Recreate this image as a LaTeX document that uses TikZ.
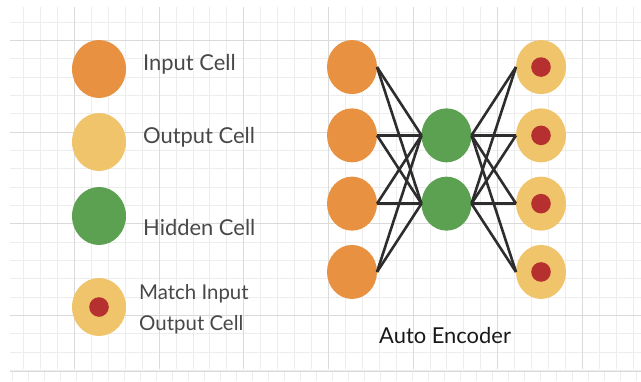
\documentclass[tikz,border=0pt]{standalone}
\usepackage{fontspec}
\setmainfont{Lato}
\usepackage{tikz}
\usetikzlibrary{shapes.geometric}
\usetikzlibrary{positioning}

\definecolor{inorange}{RGB}{232,145,64}
\definecolor{outyellow}{RGB}{240,196,106}
\definecolor{hidgreen}{RGB}{92,160,82}
\definecolor{dotred}{RGB}{183,48,48}
\definecolor{gridminor}{RGB}{237,237,237}
\definecolor{gridmajor}{RGB}{218,218,218}
\definecolor{wirecol}{RGB}{45,45,45}
\definecolor{legtext}{RGB}{72,72,72}
\definecolor{titletext}{RGB}{25,25,25}

\begin{document}
\begin{tikzpicture}[x=1bp,y=1bp,
	cell/.style={ellipse,minimum width=50bp,minimum height=54bp,inner sep=0pt,outer sep=0pt},
	bigcell/.style={cell,minimum width=54bp,minimum height=58bp},
	incell/.style={fill=inorange},
	outcell/.style={fill=outyellow},
	hidcell/.style={fill=hidgreen},
	matchcell/.style={fill=outyellow,path picture={\fill[dotred] (path picture bounding box.center) circle (9.8bp);}},
	legend/.style={anchor=base west,inner sep=0pt,text=legtext,font=\fontsize{22}{26}\selectfont},
	smalllegend/.style={legend,font=\fontsize{20.5}{24}\selectfont},
	wire/.style={draw=wirecol,line width=2.6bp},
	minorline/.style={draw=gridminor,line width=1bp},
	majorline/.style={draw=gridmajor,line width=1.5bp}]
	\useasboundingbox (0,0) rectangle (641,381);
	\fill[white] (0,0) rectangle (641,381);
	% background grid
	\foreach \gx in {1,...,37} \draw[minorline] ({round(6.3+16.93*\gx)+0.5},12) -- ++(0,362);
	\foreach \gy in {0,...,19} \draw[minorline] (10,{round(10+18.33*\gy)+0.5}) -- (641,{round(10+18.33*\gy)+0.5});
	\foreach \gx in {0,...,6} \draw[majorline] ({round(74+84.67*\gx)+0.5},12) -- ++(0,362);
	\foreach \gy in {0,...,3} \draw[majorline] (10,{round(65+91.67*\gy)+0.5}) -- (641,{round(65+91.67*\gy)+0.5});
	% bottom strip
	\foreach \gx in {0,...,39} \draw[minorline] ({12+16*\gx+0.5},0) -- ++(0,9);
	\draw[majorline,line width=1.2bp] (10,9.5) -- (641,9.5);

	% legend
	\node[bigcell,incell] (kin) at (99,312) {};
	\node[bigcell,outcell] (kout) at (99,239) {};
	\node[bigcell,hidcell] (khid) at (99,165) {};
	\node[bigcell,matchcell] (kmatch) at (99,74) {};
	\node[legend] (lin) at (143,311) {Input Cell};
	\node[legend] (lout) at (143,238) {Output Cell};
	\node[legend] (lhid) at (143,146) {Hidden Cell};
	\node[smalllegend] (lmatch) at (139,82) {Match Input};
	\node[smalllegend] (lmatchout) at (139,51) {Output Cell};

	% network
	\matrix (ae) [row sep=14.3bp,column sep=44.5bp] at (446.5,211.5) {
		\node[cell,incell] (i1) {}; & & \node[cell,matchcell] (o1) {}; \\
		\node[cell,incell] (i2) {}; & \node[cell,hidcell] (h1) {}; & \node[cell,matchcell] (o2) {}; \\
		\node[cell,incell] (i3) {}; & \node[cell,hidcell] (h2) {}; & \node[cell,matchcell] (o3) {}; \\
		\node[cell,incell] (i4) {}; & & \node[cell,matchcell] (o4) {}; \\
	};
	\path	(i1.east)	edge[wire]	(h1.west)
				edge[wire]	(h2.west)
		(i2.east)	edge[wire]	(h1.west)
				edge[wire]	(h2.west)
		(i3.east)	edge[wire]	(h1.west)
				edge[wire]	(h2.west)
		(i4.east)	edge[wire]	(h1.west)
				edge[wire]	(h2.west)
		(h1.east)	edge[wire]	(o1.west)
				edge[wire]	(o2.west)
				edge[wire]	(o3.west)
				edge[wire]	(o4.west)
		(h2.east)	edge[wire]	(o1.west)
				edge[wire]	(o2.west)
				edge[wire]	(o3.west)
				edge[wire]	(o4.west);
	\node[anchor=base west,inner sep=0pt,text=titletext,font=\fontsize{22}{26}\selectfont] (title) at (379,38) {Auto Encoder};
\end{tikzpicture}
\end{document}
